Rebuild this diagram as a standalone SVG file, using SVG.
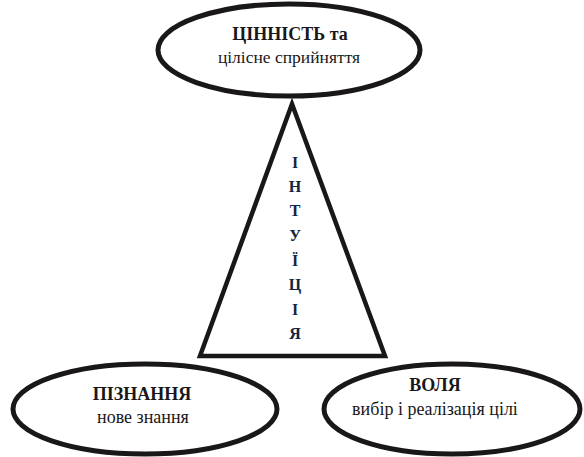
<svg xmlns="http://www.w3.org/2000/svg" width="584" height="457" viewBox="0 0 584 457">
<style>
.shape{fill:#fff;stroke:#1a1718;stroke-width:5}
.tri{fill:#fff;stroke:#1a1718;stroke-width:4.5;stroke-linejoin:miter}
text{font-family:'Liberation Serif','Times New Roman',serif;fill:#1a1718;text-anchor:middle}
.b{font-weight:bold;font-size:18px}
.r{font-size:18px}
.v{font-weight:bold;font-size:16px;fill:#13253d}
</style>
<rect width="584" height="457" fill="#fff"/>
<g id="connectors">
<polygon class="tri" points="292,104 200,356 385,356"/>
<g id="intuition-label">
<text class="v" x="295" y="168">І</text>
<text class="v" x="295" y="192">Н</text>
<text class="v" x="295" y="216">Т</text>
<text class="v" x="295" y="241">У</text>
<text class="v" x="295" y="266">Ї</text>
<text class="v" x="295" y="290">Ц</text>
<text class="v" x="295" y="315">І</text>
<text class="v" x="295" y="339">Я</text>
</g>
</g>
<g id="node-value">
<ellipse class="shape" cx="289" cy="50" rx="131" ry="46"/>
<text class="b" x="290" y="40">ЦІННІСТЬ та</text>
<text class="r" x="289" y="63" style="font-size:17.5px">цілісне сприйняття</text>
</g>
<g id="node-cognition">
<ellipse class="shape" cx="145" cy="409" rx="132" ry="45"/>
<text class="b" x="142" y="400">ПІЗНАННЯ</text>
<text class="r" x="143" y="423">нове знання</text>
</g>
<g id="node-will">
<ellipse class="shape" cx="452" cy="409" rx="128" ry="45"/>
<text class="b" x="435" y="391">ВОЛЯ</text>
<text class="r" x="435" y="415">вибір і реалізація цілі</text>
</g>
</svg>
